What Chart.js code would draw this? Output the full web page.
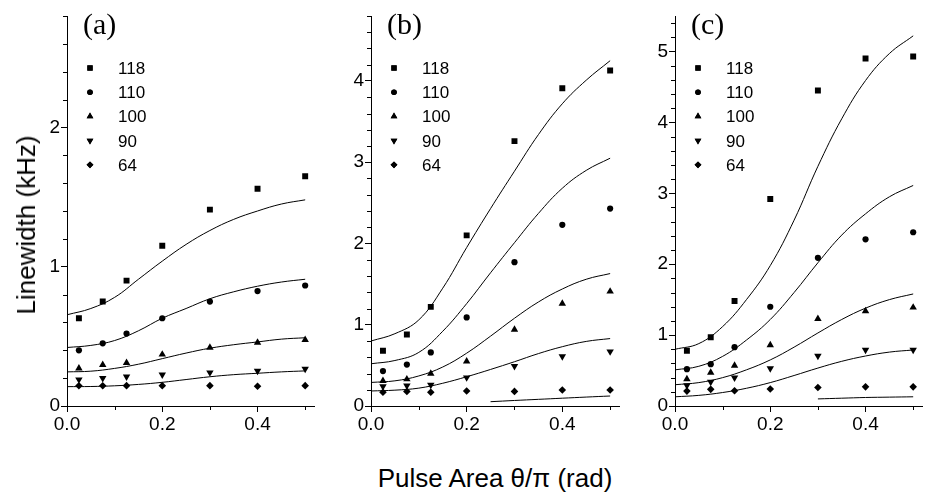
<!DOCTYPE html>
<html>
<head>
<meta charset="utf-8">
<script src="https://cdn.jsdelivr.net/npm/chart.js@4.4.1/dist/chart.umd.min.js"></script>
<style>
  body { margin:0; background:#fff; width:927px; height:492px; overflow:hidden; position:relative;
         font-family: Arial, "Liberation Sans", sans-serif; }
  canvas { position:absolute; top:0; }
  #ytitle { position:absolute; left:26px; top:225px; transform:translate(-50%,-50%) rotate(-90deg);
            font-size:26px; line-height:26px; white-space:nowrap; color:#000; }
  #xtitle { position:absolute; left:495px; top:465px; transform:translateX(-50%);
            font-size:26px; line-height:26px; white-space:nowrap; color:#000; }
</style>
</head>
<body>
<canvas id="panelA" width="299" height="445" style="left:20px"></canvas>
<canvas id="panelB" width="300" height="445" style="left:324px"></canvas>
<canvas id="panelC" width="299" height="445" style="left:628px"></canvas>
<div id="ytitle">Linewidth (kHz)</div>
<div id="xtitle">Pulse Area θ/π (rad)</div>
<script>
// pulse areas where the linewidth was measured, and where the fit curves were read
const pulseArea = [0.025, 0.075, 0.125, 0.2, 0.3, 0.4, 0.5];
const fitArea = [0, 0.05, 0.1, 0.15, 0.2, 0.25, 0.3, 0.35, 0.4, 0.45, 0.5];
const fitArea64b = [0.25, 0.3, 0.35, 0.4, 0.45, 0.5];
const fitArea64c = [0.3, 0.35, 0.4, 0.45, 0.5];
const seriesLabels = ['118', '110', '100', '90', '64'];

const xMajor = [0, 0.2, 0.4];
const xMinor = [0.1, 0.3, 0.5];

// (a)
const a118 = [0.63, 0.75, 0.90, 1.15, 1.41, 1.56, 1.65];
const a110 = [0.40, 0.45, 0.52, 0.63, 0.75, 0.825, 0.865];
const a100 = [0.27, 0.295, 0.31, 0.37, 0.42, 0.455, 0.475];
const a90 = [0.19, 0.20, 0.21, 0.225, 0.24, 0.252, 0.266];
const a64 = [0.145, 0.145, 0.146, 0.146, 0.146, 0.142, 0.146];
const fitA118 = [0.655, 0.70, 0.78, 0.91, 1.04, 1.16, 1.26, 1.34, 1.40, 1.45, 1.48];
const fitA110 = [0.42, 0.435, 0.47, 0.54, 0.63, 0.70, 0.77, 0.82, 0.86, 0.89, 0.91];
const fitA100 = [0.245, 0.25, 0.27, 0.30, 0.34, 0.38, 0.415, 0.44, 0.46, 0.48, 0.49];
const fitA90 = [0.139, 0.14, 0.145, 0.155, 0.17, 0.19, 0.21, 0.225, 0.235, 0.245, 0.252];

// (b)
const b118 = [0.68, 0.88, 1.22, 2.10, 3.26, 3.91, 4.13];
const b110 = [0.43, 0.51, 0.66, 1.09, 1.77, 2.23, 2.43];
const b100 = [0.31, 0.33, 0.40, 0.55, 0.94, 1.26, 1.41];
const b90 = [0.24, 0.25, 0.26, 0.35, 0.49, 0.61, 0.67];
const b64 = [0.17, 0.18, 0.17, 0.185, 0.18, 0.197, 0.197];
const fitB118 = [0.80, 0.89, 1.06, 1.45, 1.95, 2.43, 2.89, 3.34, 3.72, 4.01, 4.25];
const fitB110 = [0.52, 0.56, 0.66, 0.92, 1.26, 1.64, 2.01, 2.37, 2.68, 2.90, 3.05];
const fitB100 = [0.29, 0.31, 0.37, 0.48, 0.65, 0.86, 1.08, 1.28, 1.44, 1.56, 1.63];
const fitB90 = [0.185, 0.195, 0.22, 0.28, 0.36, 0.45, 0.545, 0.645, 0.73, 0.795, 0.83];
const fitB64 = [0.053, 0.068, 0.082, 0.096, 0.11, 0.123];

// (c)
const c118 = [0.78, 0.97, 1.48, 2.92, 4.45, 4.90, 4.93];
const c110 = [0.52, 0.59, 0.83, 1.40, 2.09, 2.35, 2.45];
const c100 = [0.38, 0.47, 0.57, 0.86, 1.23, 1.34, 1.39];
const c90 = [0.29, 0.34, 0.40, 0.53, 0.705, 0.79, 0.79];
const c64 = [0.21, 0.235, 0.216, 0.24, 0.26, 0.27, 0.27];
const fitC118 = [0.80, 0.88, 1.12, 1.50, 1.98, 2.62, 3.38, 4.05, 4.59, 4.97, 5.22];
const fitC110 = [0.51, 0.56, 0.70, 0.93, 1.22, 1.60, 2.02, 2.41, 2.71, 2.95, 3.11];
const fitC100 = [0.30, 0.33, 0.40, 0.51, 0.65, 0.83, 1.03, 1.22, 1.38, 1.50, 1.58];
const fitC90 = [0.13, 0.15, 0.19, 0.25, 0.33, 0.43, 0.535, 0.63, 0.705, 0.76, 0.79];
const fitC64 = [0.10, 0.11, 0.12, 0.125, 0.13];

const SANS = 'Arial, "Liberation Sans", sans-serif';
const SERIF = '"Times New Roman", "Liberation Serif", serif';
const markerStyle = ['rect', 'circle', 'triangle', 'triangle', 'rectRot'];
const markerRot = [0, 0, 0, 180, 0];
const markerSize = [4.2, 3.1, 4.3, 4.3, 3.8];

function pts(xs, ys) {
  return ys.map((y, i) => ({ x: xs[i], y: y }));
}

// short minor ticks on both axes
const minorTicks = {
  id: 'minorTicks',
  afterDraw(chart) {
    const ctx = chart.ctx, xs = chart.scales.x, ys = chart.scales.y;
    const yMinor = chart.options.plugins.minorTicks.y;
    ctx.save();
    ctx.strokeStyle = '#000';
    ctx.lineWidth = 1;
    ctx.beginPath();
    xMinor.forEach(v => {
      const px = Math.round(xs.getPixelForValue(v)) + 0.5;
      ctx.moveTo(px, ys.bottom);
      ctx.lineTo(px, ys.bottom + 4);
    });
    yMinor.forEach(v => {
      const py = Math.round(ys.getPixelForValue(v)) + 0.5;
      ctx.moveTo(xs.left, py);
      ctx.lineTo(xs.left - 4, py);
    });
    ctx.stroke();
    ctx.restore();
  }
};

// panel letter and in-plot legend
const panelKey = {
  id: 'panelKey',
  afterDraw(chart) {
    const ctx = chart.ctx, area = chart.chartArea;
    const opts = chart.options.plugins.panelKey;
    ctx.save();
    ctx.fillStyle = '#000';
    ctx.font = '30px ' + SERIF;
    ctx.textBaseline = 'alphabetic';
    ctx.textAlign = 'left';
    ctx.fillText(opts.text, area.left + 16, area.top + 18);
    ctx.font = '17px ' + SANS;
    seriesLabels.forEach((lab, i) => {
      const y = area.top + 52 + i * 24.2;
      Chart.helpers.drawPoint(ctx, {
        pointStyle: markerStyle[i], rotation: markerRot[i], radius: markerSize[i] * 0.9, borderWidth: 0
      }, area.left + 23, y);
      ctx.fill();
      ctx.fillText(lab, area.left + 51, y + 6);
    });
    ctx.restore();
  }
};

function makePanel(id, letter, yMax, yMajor, series, fits) {
  const yMinor = [];
  for (let k = 1; k * 0.2 <= yMax + 1e-9; k++) {
    const v = Math.round(k * 2) / 10;
    if (Math.abs(v - Math.round(v)) > 1e-6) yMinor.push(v);
  }
  const datasets = [];
  fits.forEach(f => {
    datasets.push({
      data: pts(f.xs, f.ys), showLine: true, borderColor: '#000', borderWidth: 1,
      pointRadius: 0, tension: 0.4, fill: false
    });
  });
  series.forEach((ys, i) => {
    datasets.push({
      label: seriesLabels[i], data: pts(pulseArea, ys), showLine: false,
      pointStyle: markerStyle[i], rotation: markerRot[i], pointRadius: markerSize[i],
      backgroundColor: '#000', borderColor: '#000', borderWidth: 0
    });
  });
  const tickFont = { family: SANS, size: 19 };
  new Chart(document.getElementById(id), {
    type: 'scatter',
    data: { datasets: datasets },
    options: {
      responsive: false, animation: false, devicePixelRatio: 1, events: [],
      layout: { padding: { top: 16, right: 4, left: 0, bottom: 0 } },
      plugins: {
        legend: { display: false }, tooltip: { enabled: false },
        minorTicks: { y: yMinor }, panelKey: { text: letter }
      },
      scales: {
        x: {
          type: 'linear', min: 0, max: 0.52,
          afterBuildTicks: s => { s.ticks = xMajor.map(v => ({ value: v })); },
          afterFit: s => { s.height = 39; },
          ticks: { callback: v => v.toFixed(1), font: tickFont, color: '#000', padding: 1,
                   maxRotation: 0, autoSkip: false },
          grid: { drawOnChartArea: false, drawTicks: true, tickLength: 6, tickColor: '#000' },
          border: { display: true, color: '#000', width: 1 }
        },
        y: {
          type: 'linear', min: 0, max: yMax,
          afterBuildTicks: s => { s.ticks = yMajor.map(v => ({ value: v })); },
          afterFit: s => { s.width = 47; },
          ticks: { callback: v => String(v), font: tickFont, color: '#000', padding: 1, autoSkip: false },
          grid: { drawOnChartArea: false, drawTicks: true, tickLength: 6, tickColor: '#000' },
          border: { display: true, color: '#000', width: 1 }
        }
      }
    },
    plugins: [minorTicks, panelKey]
  });
}

makePanel('panelA', '(a)', 2.8, [0, 1, 2],
  [a118, a110, a100, a90, a64],
  [{ xs: fitArea, ys: fitA118 }, { xs: fitArea, ys: fitA110 },
   { xs: fitArea, ys: fitA100 }, { xs: fitArea, ys: fitA90 }]);

makePanel('panelB', '(b)', 4.8, [0, 1, 2, 3, 4],
  [b118, b110, b100, b90, b64],
  [{ xs: fitArea, ys: fitB118 }, { xs: fitArea, ys: fitB110 },
   { xs: fitArea, ys: fitB100 }, { xs: fitArea, ys: fitB90 },
   { xs: fitArea64b, ys: fitB64 }]);

makePanel('panelC', '(c)', 5.5, [0, 1, 2, 3, 4, 5],
  [c118, c110, c100, c90, c64],
  [{ xs: fitArea, ys: fitC118 }, { xs: fitArea, ys: fitC110 },
   { xs: fitArea, ys: fitC100 }, { xs: fitArea, ys: fitC90 },
   { xs: fitArea64c, ys: fitC64 }]);
</script>
</body>
</html>
